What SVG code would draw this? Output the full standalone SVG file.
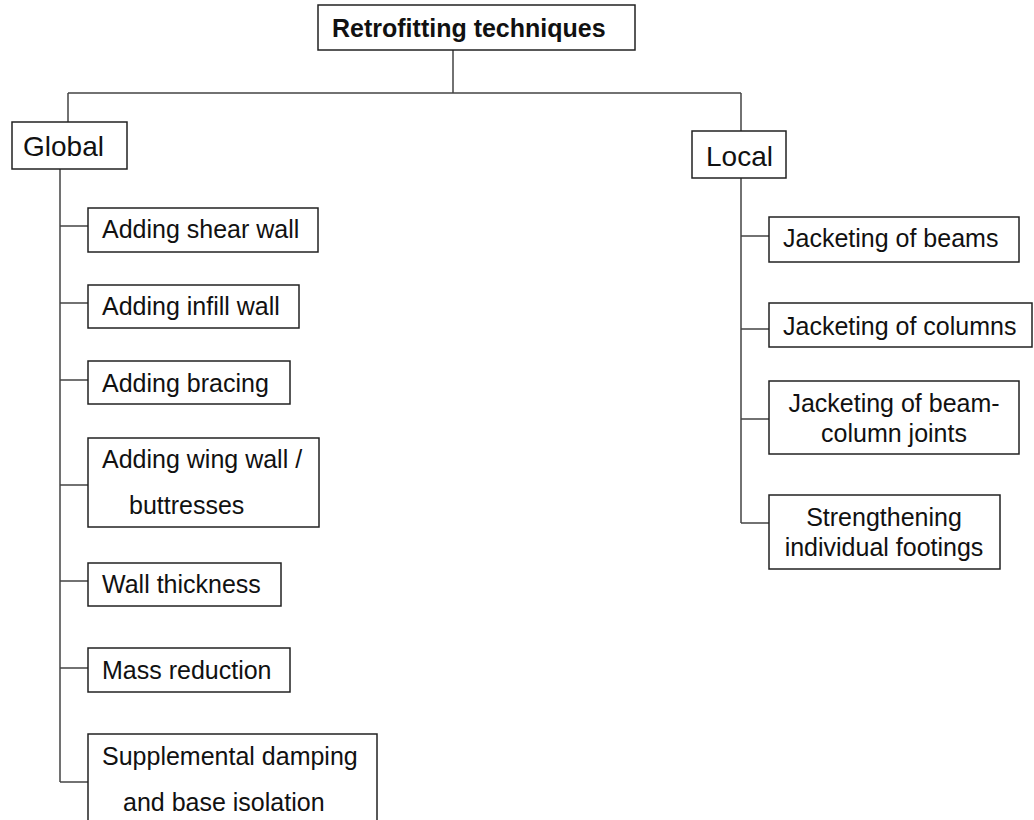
<svg xmlns="http://www.w3.org/2000/svg" width="1034" height="820" viewBox="0 0 1034 820">
<style>
.box{fill:#fff;stroke:#222;stroke-width:1.5}
.t{font-family:"Liberation Sans",Arial,sans-serif;font-size:25px;fill:#111}
.b{font-weight:bold}
.big{font-size:28px}
.m{text-anchor:middle}
.c{fill:none;stroke:#444;stroke-width:1.5}
</style>
<rect width="1034" height="820" fill="#fff"/>
<g id="connectors">
<path class="c" d="M453 50V93M68 93H741M68 93V122M741 93V131"/>
<path class="c" d="M60 169V782M60 226H88M60 303H88M60 380H88M60 485H88M60 581H88M60 668H88M60 782H88"/>
<path class="c" d="M741 178V523M741 236H769M741 329H769M741 419H769M741 523H769"/>
</g>
<g id="root"><rect class="box" x="318" y="5" width="317" height="45"/><text class="t b" x="332" y="37">Retrofitting techniques</text></g>
<g id="global"><rect class="box" x="12" y="122" width="115" height="47"/><text class="t big" x="23" y="156">Global</text></g>
<g id="local"><rect class="box" x="692" y="131" width="94" height="47"/><text class="t big" x="706" y="166">Local</text></g>
<g id="shear"><rect class="box" x="88" y="208" width="230" height="44"/><text class="t" x="102" y="238">Adding shear wall</text></g>
<g id="infill"><rect class="box" x="88" y="285" width="211" height="43"/><text class="t" x="102" y="315">Adding infill wall</text></g>
<g id="bracing"><rect class="box" x="88" y="361" width="202" height="43"/><text class="t" x="102" y="392">Adding bracing</text></g>
<g id="wing"><rect class="box" x="88" y="438" width="231" height="89"/><text class="t" x="102" y="468">Adding wing wall /</text><text class="t" x="129" y="514">buttresses</text></g>
<g id="thickness"><rect class="box" x="88" y="563" width="193" height="43"/><text class="t" x="102" y="593">Wall thickness</text></g>
<g id="mass"><rect class="box" x="88" y="648" width="202" height="44"/><text class="t" x="102" y="679">Mass reduction</text></g>
<g id="damping"><rect class="box" x="88" y="734" width="289" height="100"/><text class="t" x="102" y="765">Supplemental damping</text><text class="t" x="123" y="811">and base isolation</text></g>
<g id="beams"><rect class="box" x="769" y="217" width="250" height="45"/><text class="t" x="783" y="247">Jacketing of beams</text></g>
<g id="columns"><rect class="box" x="769" y="303" width="263" height="44"/><text class="t" x="783" y="335">Jacketing of columns</text></g>
<g id="joints"><rect class="box" x="769" y="381" width="250" height="73"/><text class="t m" x="894" y="412">Jacketing of beam-</text><text class="t m" x="894" y="442">column joints</text></g>
<g id="footings"><rect class="box" x="769" y="495" width="231" height="74"/><text class="t m" x="884" y="526">Strengthening</text><text class="t m" x="884" y="556">individual footings</text></g>
</svg>
